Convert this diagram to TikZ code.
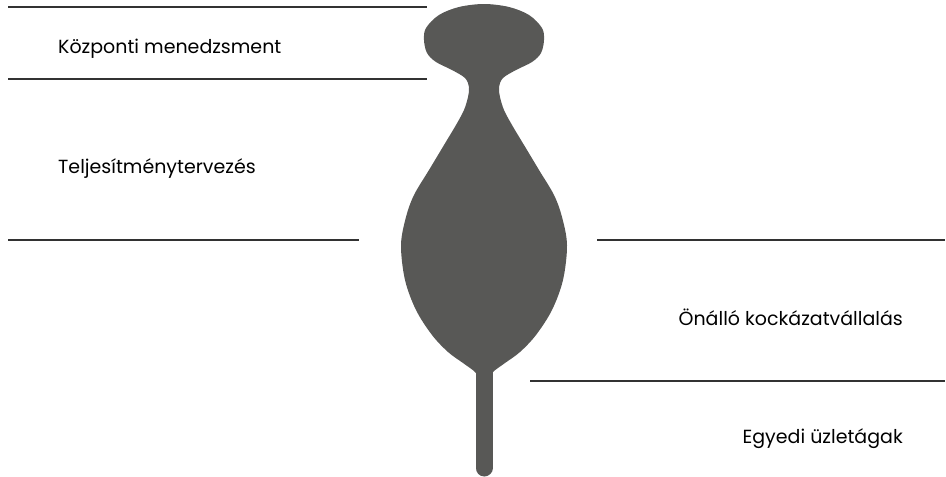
\documentclass[tikz,border=0pt]{standalone}
\usepackage{fontspec}
\setmainfont{Poppins}
\definecolor{vase}{RGB}{88,88,86}
\definecolor{rule}{RGB}{50,50,50}
\begin{document}
\begin{tikzpicture}[x=1pt, y=-1pt]
\useasboundingbox (0,0) rectangle (946,477);
% separator lines
\draw[rule, line width=1.3pt] (8,7) -- (427,7);
\draw[rule, line width=1.3pt] (8,79) -- (427,79);
\draw[rule, line width=1.3pt] (8,240) -- (359,240);
\draw[rule, line width=1.3pt] (597,240) -- (945,240);
\draw[rule, line width=1.3pt] (530,381) -- (945,381);
% the vase
\fill[vase] plot[smooth cycle, tension=0.55] coordinates {
  (484,4) (509,7) (529,15) (542,28) (544,40) (541,53) (532,62) (516,70)
  (503,78) (499,87) (500,97) (504,110) (512,125) (524,145) (539,170)
  (554,195) (562,217) (567,245) (563,280) (552,310) (536,335) (520,352)
  (505,363) (494,371) (484,380)
  (474,371) (463,363) (448,352) (432,335) (416,310) (405,280) (401,245)
  (406,217) (414,195) (429,170) (444,145) (456,125) (464,110) (468,97)
  (469,87) (465,78) (452,70) (436,62) (427,53) (424,40) (426,28) (439,15)
  (459,7)};
\draw[vase, line width=17pt, line cap=round] (484,368) -- (484,468);
% labels
\node[anchor=base west, inner sep=0pt, font=\fontsize{19}{23}\selectfont] (kozp) at (58,53) {Központi menedzsment};
\node[anchor=base west, inner sep=0pt, font=\fontsize{19}{23}\selectfont] (telj) at (58,173) {Teljesítménytervezés};
\node[anchor=base east, inner sep=0pt, font=\fontsize{19}{23}\selectfont] (onal) at (903,325) {Önálló kockázatvállalás};
\node[anchor=base east, inner sep=0pt, font=\fontsize{19}{23}\selectfont] (egye) at (903,443) {Egyedi üzletágak};
\end{tikzpicture}
\end{document}
